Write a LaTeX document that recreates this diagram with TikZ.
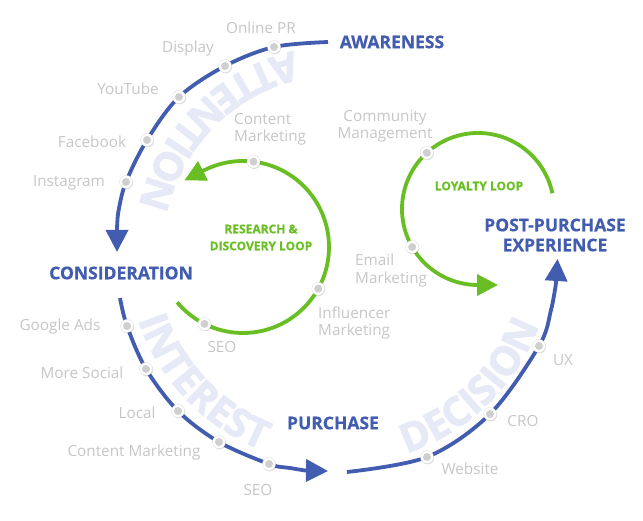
\documentclass[tikz,border=0pt]{standalone}
\usepackage{fontspec}
\setmainfont{Open Sans}
\newfontfamily\titlesans{Open Sans}[BoldFeatures={FakeBold=0.6}]
\newfontfamily\wmsans{Open Sans}[BoldFeatures={FakeBold=2.2}]
\usetikzlibrary{arrows.meta,decorations.text,shadows}
\definecolor{stageblue}{HTML}{425CB0}
\definecolor{loopgreen}{HTML}{68BE22}
\definecolor{labelgray}{HTML}{C6C6C6}
\definecolor{wmblue}{HTML}{E6EAF6}
\definecolor{dotgray}{HTML}{CFCFCF}
\newcommand\wmfont{\wmsans\fontsize{40}{44}\selectfont\bfseries}
\begin{document}
\begin{tikzpicture}[x=1pt,y=1pt,
  blueline/.style={draw=stageblue, line width=3.8pt},
  greenline/.style={draw=loopgreen, line width=3.8pt},
  bluetip/.style={-{Triangle[length=22pt,width=22pt]}},
  greentip/.style={-{Triangle[length=21pt,width=21pt]}},
  stagelabel/.style={text=stageblue, font=\titlesans\fontsize{17.5}{20}\selectfont\bfseries, align=center, inner sep=0},
  looplabel/.style={text=loopgreen, font=\titlesans\fontsize{12}{17}\selectfont\bfseries, align=center, inner sep=0},
  toollabel/.style={text=labelgray, font=\fontsize{15.3}{17.5}\selectfont, inner sep=0},
  dotn/.style={circle, fill=white, draw=black!12, line width=0.4pt, minimum size=13pt, inner sep=0,
    drop shadow={shadow xshift=0.6pt, shadow yshift=-0.8pt, fill=black, opacity=0.15},
    path picture={\fill[dotgray] (path picture bounding box.center) circle[radius=4pt];}},
  watermark/.style={decorate, decoration={text along path, text color=wmblue, text align=center, text={|\wmfont|#1}}}
]
\useasboundingbox (0,0) rectangle (643,521);
\coordinate (mc) at (340,269);
\coordinate (rc) at (243,274);
\coordinate (lc) at (478,312);

% watermark words
\path[watermark=ATTENTION] (mc) ++(90:206) arc[start angle=90, end angle=180, radius=206];
\path[watermark=INTEREST] (mc) ++(185:213) arc[start angle=185, end angle=262, radius=213];
\path[watermark=DECISION] (mc) ++(275:212) arc[start angle=275, end angle=353, radius=212];

% blue journey
\draw[blueline] plot[smooth, tension=0.55] coordinates {(328,479) (274,474) (225,455) (179,424) (147,381) (126,339) (118.5,310) (117,291)};
\coordinate (a1) at (117,291);
\coordinate (a1t) at (117,269);
\draw[blueline, bluetip] (a1) -- (a1t);

\draw[blueline] plot[smooth, tension=0.55] coordinates {(120,223) (127,195) (146,152) (178,110) (219,79) (269,57) (290,53) (305,50.5)};
\coordinate (a2) at (305,50.5);
\coordinate (a2t) at (328,50);
\draw[blueline, bluetip] (a2) -- (a2t);

\draw[blueline] plot[smooth, tension=0.55] coordinates {(347,49) (427,64) (490,107) (539,175) (551,211) (556,238)};
\coordinate (a3) at (556,238);
\coordinate (a3t) at (557.5,262);
\draw[blueline, bluetip] (a3) -- (a3t);

% green loops
\draw[greenline, greentip] (rc) ++(-140:86) arc[start angle=-140, end angle=117, radius=86] -- ++(-19.6,-10);
\draw[greenline, greentip] (lc) ++(12:76) arc[start angle=12, end angle=270, radius=76] -- ++(20,0);

% dots
\node[dotn] (dopr) at (274,474) {};
\node[dotn] (ddis) at (225,455) {};
\node[dotn] (dyt) at (179,424) {};
\node[dotn] (dfb) at (147,381) {};
\node[dotn] (dig) at (126,339) {};
\node[dotn] (dga) at (127,195) {};
\node[dotn] (dms) at (146,152) {};
\node[dotn] (dloc) at (178,110) {};
\node[dotn] (dcm) at (219,79) {};
\node[dotn] (dseo) at (269,57) {};
\node[dotn] (dweb) at (427,64) {};
\node[dotn] (dcro) at (490,107) {};
\node[dotn] (dux) at (539,175) {};
\node[dotn] (drcm) at ([shift={(83:86)}]rc) {};
\node[dotn] (drinf) at ([shift={(-29:86)}]rc) {};
\node[dotn] (drseo) at ([shift={(-116.6:86)}]rc) {};
\node[dotn] (dlcom) at ([shift={(132.3:76)}]lc) {};
\node[dotn] (dlem) at ([shift={(210:76)}]lc) {};

% stage labels
\node[stagelabel] (awareness) at (392,479) {AWARENESS};
\node[stagelabel] (consideration) at (121,248) {CONSIDERATION};
\node[stagelabel] (purchase) at (333,98) {PURCHASE};
\node[stagelabel] (post) at (555,286) {POST-PURCHASE\\EXPERIENCE};

% loop labels
\node[looplabel] (research) at (261,283.5) {RESEARCH \&\\DISCOVERY LOOP};
\node[looplabel] (loyalty) at (479,335) {LOYALTY LOOP};

% tool labels
\node[toollabel] (lopr) at (261,493) {Online PR};
\node[toollabel] (ldis) at (188,472) {Display};
\node[toollabel] (lyt) at (128,432) {YouTube};
\node[toollabel] (lfb) at (92,379) {Facebook};
\node[toollabel] (lig) at (69,338) {Instagram};
\node[toollabel, anchor=west, align=left] (lrcm) at (234,391.5) {Content\\Marketing};
\node[toollabel, align=center] (lcom) at (385,395) {Community\\Management};
\node[toollabel, anchor=west, align=left] (lem) at (355,250.5) {Email\\Marketing};
\node[toollabel, anchor=west, align=left] (linf) at (318,198) {Influencer\\Marketing};
\node[toollabel] (lrseo) at (222,174) {SEO};
\node[toollabel] (lga) at (60,194) {Google Ads};
\node[toollabel] (lms) at (82,148) {More Social};
\node[toollabel] (lloc) at (137,108) {Local};
\node[toollabel] (lcm) at (134,68) {Content Marketing};
\node[toollabel] (lseo) at (258,31) {SEO};
\node[toollabel] (lux) at (563,161) {UX};
\node[toollabel] (lcro) at (523,100) {CRO};
\node[toollabel] (lweb) at (470,52) {Website};
\end{tikzpicture}
\end{document}
